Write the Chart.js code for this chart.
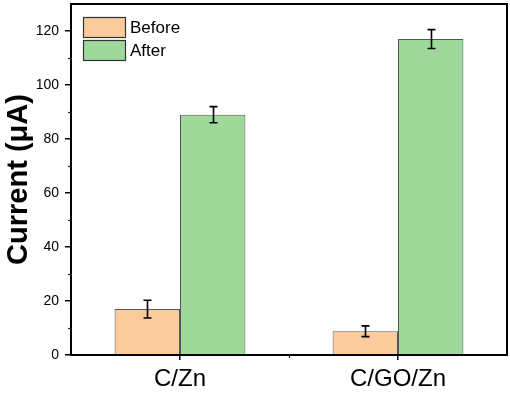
<!DOCTYPE html>
<html><head><meta charset="utf-8">
<script src="https://cdn.jsdelivr.net/npm/chart.js@4/dist/chart.umd.min.js"></script>
<style>html,body{margin:0;padding:0;background:#fff}#wrap{width:510px;height:393px}</style>
</head><body><div id="wrap"><canvas id="c" width="510" height="393"></canvas></div>
<script>
const categories = ["C/Zn", "C/GO/Zn"];
const seriesNames = ["Before", "After"];
const beforeValues = [17, 8.8];
const afterValues = [89, 117];
const beforeErrors = [3.3, 2.0];
const afterErrors = [3.0, 3.5];
const yTicks = [0, 20, 40, 60, 80, 100, 120];
const yMinorTicks = [10, 30, 50, 70, 90, 110];

const errorsByDataset = [beforeErrors, afterErrors];

const extras = {
  id: 'extras',
  afterDatasetsDraw(chart) {
    const ctx = chart.ctx, a = chart.chartArea;
    const ys = chart.scales.y, xs = chart.scales.x;
    ctx.save();
    // error bars
    ctx.strokeStyle = '#000'; ctx.lineWidth = 1.6;
    chart.data.datasets.forEach((ds, di) => {
      const meta = chart.getDatasetMeta(di);
      meta.data.forEach((bar, i) => {
        const v = ds.data[i], e = errorsByDataset[di][i];
        const y1 = ys.getPixelForValue(v + e), y2 = ys.getPixelForValue(v - e);
        const x = Math.round(bar.x) + 0.5;
        ctx.beginPath();
        ctx.moveTo(x, y1); ctx.lineTo(x, y2);
        ctx.moveTo(x - 4, y1); ctx.lineTo(x + 4, y1);
        ctx.moveTo(x - 4, y2); ctx.lineTo(x + 4, y2);
        ctx.stroke();
      });
    });
    // frame
    ctx.strokeStyle = '#000'; ctx.lineWidth = 2;
    ctx.strokeRect(a.left, a.top, a.right - a.left, a.bottom - a.top);
    // minor ticks y
    ctx.lineWidth = 1.2;
    ctx.strokeStyle = '#222';
    yMinorTicks.forEach(t => {
      const y = Math.round(ys.getPixelForValue(t)) + 0.5;
      ctx.beginPath(); ctx.moveTo(a.left - 3, y); ctx.lineTo(a.left, y); ctx.stroke();
    });
    // minor tick x (between categories)
    const xm = Math.round((xs.getPixelForValue(0) + xs.getPixelForValue(1)) / 2) + 0.5;
    ctx.beginPath(); ctx.moveTo(xm, a.bottom); ctx.lineTo(xm, a.bottom + 3); ctx.stroke();
    // legend
    ctx.font = '17px "Liberation Sans", Arial, sans-serif';
    ctx.textBaseline = 'middle'; ctx.textAlign = 'left';
    chart.data.datasets.forEach((ds, di) => {
      const bx = a.left + 12, by = a.top + 13 + di * 23, bw = 42, bh = 20;
      ctx.fillStyle = ds.backgroundColor;
      ctx.fillRect(bx, by, bw, bh);
      ctx.strokeStyle = '#333'; ctx.lineWidth = 1.2;
      ctx.strokeRect(bx + 0.5, by + 0.5, bw, bh);
      ctx.fillStyle = '#000';
      ctx.fillText(ds.label, bx + bw + 5, by + bh / 2 + 1);
    });
    ctx.restore();
  }
};

new Chart(document.getElementById('c'), {
  type: 'bar',
  data: {
    labels: categories,
    datasets: [
      { label: seriesNames[0], data: beforeValues, backgroundColor: '#FBCB9B', borderColor: '#555', borderWidth: 1 },
      { label: seriesNames[1], data: afterValues, backgroundColor: '#9FD89B', borderColor: '#555', borderWidth: 1 }
    ]
  },
  options: {
    responsive: false,
    animation: false,
    devicePixelRatio: 1,
    layout: { padding: { top: 4, right: 3, left: 0, bottom: 0 } },
    plugins: { legend: { display: false }, tooltip: { enabled: false } },
    datasets: { bar: { categoryPercentage: 0.6, barPercentage: 1.0 } },
    scales: {
      x: {
        offset: true,
        grid: { offset: false, drawOnChartArea: false, tickLength: 5, color: '#000', lineWidth: 1.5 },
        border: { display: true, color: '#000', width: 2 },
        ticks: { color: '#000', padding: 5, font: { family: '"Liberation Sans", Arial, sans-serif', size: 24 } },
        afterFit(s) { s.height = 38; s.paddingLeft = 0; s.paddingRight = 0; }
      },
      y: {
        min: 0, max: 130,
        afterBuildTicks(s) { s.ticks = yTicks.map(v => ({ value: v })); },
        grid: { drawOnChartArea: false, tickLength: 6, color: '#000', lineWidth: 1.5 },
        border: { display: true, color: '#000', width: 2 },
        ticks: { color: '#000', padding: 6, font: { family: '"Liberation Sans", Arial, sans-serif', size: 14 } },
        title: { display: true, text: 'Current (μA)', color: '#000', padding: { top: 2, bottom: 0 },
                 font: { family: '"Liberation Sans", Arial, sans-serif', size: 29, weight: 'bold' } },
        afterFit(s) { s.width = 71; s.paddingTop = 0; s.paddingBottom = 0; }
      }
    }
  },
  plugins: [extras]
});
</script></body></html>
